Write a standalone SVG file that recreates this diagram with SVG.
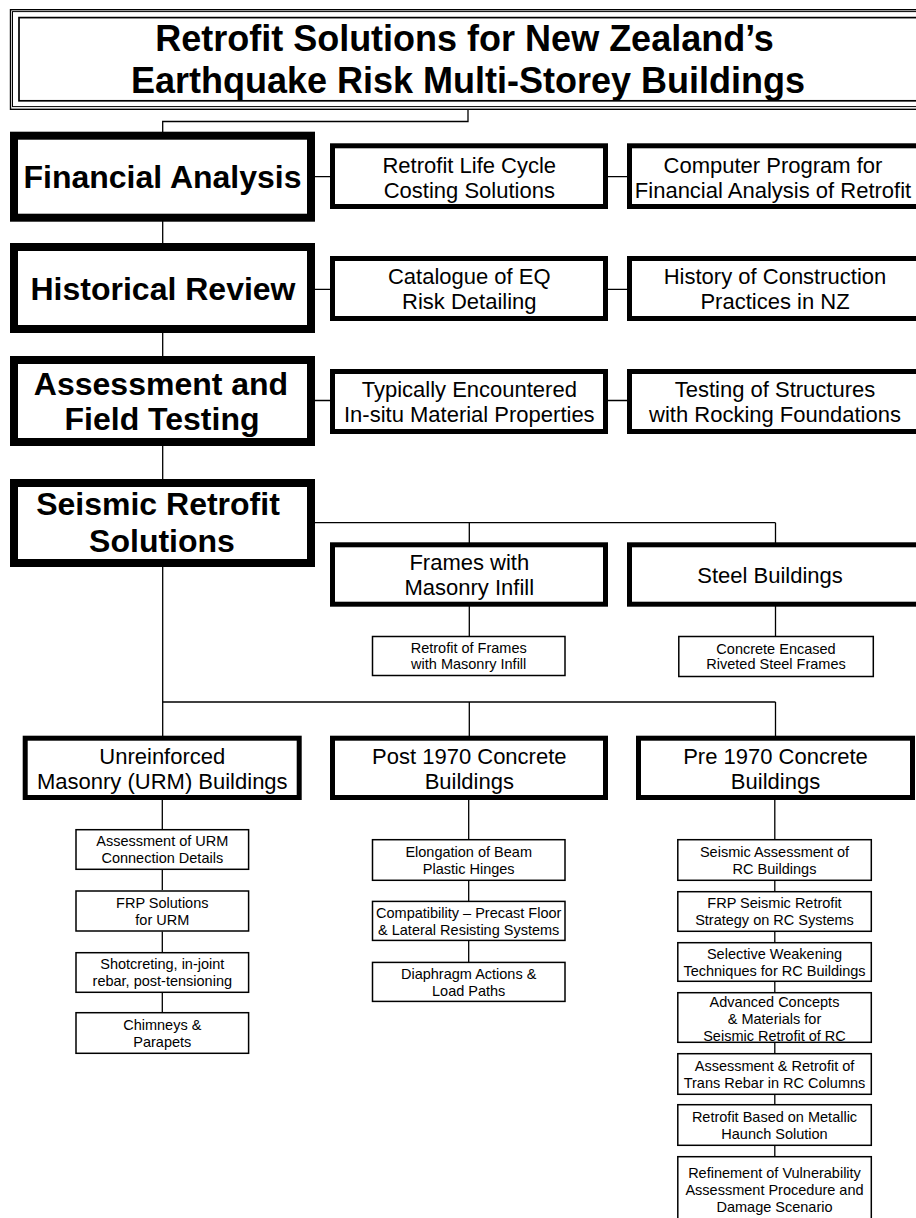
<svg xmlns="http://www.w3.org/2000/svg" width="916" height="1218" viewBox="0 0 916 1218">
<style>
.thick{fill:#fff;stroke:#000;stroke-width:8}
.med{fill:#fff;stroke:#000;stroke-width:5}
.thin{fill:#fff;stroke:#000;stroke-width:1.5}
.conn{fill:none;stroke:#000;stroke-width:1.3}
.frame{fill:none;stroke:#000}
text{font-family:"Liberation Sans",Arial,Helvetica,sans-serif;text-anchor:middle;fill:#000}
.tt{font-size:36px;font-weight:bold}
.tb{font-size:32px;font-weight:bold}
.tm{font-size:22px}
.ts{font-size:14.5px}
</style>
<rect width="916" height="1218" fill="#fff"/>

<g id="connectors">
<path class="conn" d="M468,109.5 V121.5 H162.7 V132"/>
<path class="conn" d="M162.7,221 V243 M162.7,333 V356 M162.7,446 V479 M162.7,567 V702"/>
<path class="conn" d="M315,176.7 H332 M608,176.7 H629 M315,289.3 H332 M608,289.3 H629 M315,400.5 H332 M608,400.5 H629"/>
<path class="conn" d="M315,522.7 H775.5 M469.3,522.7 V543 M775.5,522.7 V543"/>
<path class="conn" d="M469.3,606 V636 M775.5,606 V636"/>
<path class="conn" d="M162.7,702 H775.5 M162.7,702 V736 M469.3,702 V736 M775.5,702 V736"/>
<path class="conn" d="M162.3,799 V829 M162.3,870 V890 M162.3,931.5 V952 M162.3,993 V1012"/>
<path class="conn" d="M468.7,799 V839 M468.7,881 V901 M468.7,941 V962"/>
<path class="conn" d="M774.8,799 V839 M774.8,881 V891 M774.8,932 V942 M774.8,982 V992 M774.8,1043 V1053 M774.8,1095 V1104 M774.8,1146 V1156"/>
</g>

<g id="title">
<rect class="frame" x="10.5" y="9.7" width="930" height="99.6" stroke-width="1.4"/>
<rect class="frame" x="12.5" y="11.6" width="930" height="95" stroke-width="1"/>
<rect class="frame" x="19" y="17.6" width="930" height="83.2" stroke-width="1.7"/>
<text class="tt" x="464.5" y="51">Retrofit Solutions for New Zealand’s</text>
<text class="tt" x="468" y="93">Earthquake Risk Multi-Storey Buildings</text>
</g>

<g id="financial-analysis">
<rect class="thick" x="14" y="135.7" width="297" height="82"/>
<text class="tb" x="162.5" y="188">Financial Analysis</text>
</g>
<g id="retrofit-life-cycle">
<rect class="med" x="332.5" y="145.8" width="273" height="60.7"/>
<text class="tm" x="469.3" y="173"><tspan x="469.3">Retrofit Life Cycle</tspan><tspan x="469.3" dy="25">Costing Solutions</tspan></text>
</g>
<g id="computer-program">
<rect class="med" x="629.5" y="145.8" width="300" height="60.7"/>
<text class="tm" x="773" y="173"><tspan x="773">Computer Program for</tspan><tspan x="773" dy="25">Financial Analysis of Retrofit</tspan></text>
</g>

<g id="historical-review">
<rect class="thick" x="14" y="247" width="297" height="82"/>
<text class="tb" x="163" y="299.5">Historical Review</text>
</g>
<g id="catalogue-eq">
<rect class="med" x="332.5" y="258.5" width="273" height="60"/>
<text class="tm" x="469.3" y="284"><tspan x="469.3">Catalogue of EQ</tspan><tspan x="469.3" dy="25">Risk Detailing</tspan></text>
</g>
<g id="history-construction">
<rect class="med" x="629.5" y="258.5" width="300" height="60"/>
<text class="tm" x="775" y="284"><tspan x="775">History of Construction</tspan><tspan x="775" dy="25">Practices in NZ</tspan></text>
</g>

<g id="assessment-field-testing">
<rect class="thick" x="14" y="360" width="297" height="82"/>
<text class="tb" x="161" y="395"><tspan x="161">Assessment and</tspan><tspan x="162" dy="35">Field Testing</tspan></text>
</g>
<g id="typically-encountered">
<rect class="med" x="332.5" y="371.5" width="273" height="60"/>
<text class="tm" x="469.3" y="396.7"><tspan x="469.3">Typically Encountered</tspan><tspan x="469.3" dy="25">In-situ Material Properties</tspan></text>
</g>
<g id="testing-structures">
<rect class="med" x="629.5" y="371.5" width="300" height="60"/>
<text class="tm" x="775" y="396.7"><tspan x="775">Testing of Structures</tspan><tspan x="775" dy="25">with Rocking Foundations</tspan></text>
</g>

<g id="seismic-retrofit-solutions">
<rect class="thick" x="14" y="483" width="297" height="80"/>
<text class="tb" x="158" y="515"><tspan x="158">Seismic Retrofit</tspan><tspan x="162" dy="37">Solutions</tspan></text>
</g>
<g id="frames-masonry-infill">
<rect class="med" x="332.5" y="544.8" width="273" height="59.4"/>
<text class="tm" x="469.3" y="570"><tspan x="469.3">Frames with</tspan><tspan x="469.3" dy="25">Masonry Infill</tspan></text>
</g>
<g id="steel-buildings">
<rect class="med" x="629.5" y="544.8" width="300" height="59.4"/>
<text class="tm" x="770" y="582.5">Steel Buildings</text>
</g>
<g id="retrofit-frames">
<rect class="thin" x="372.5" y="636.5" width="192.5" height="39"/>
<text class="ts" x="468.7" y="653"><tspan x="468.7">Retrofit of Frames</tspan><tspan x="468.7" dy="15.5">with Masonry Infill</tspan></text>
</g>
<g id="concrete-encased">
<rect class="thin" x="678.8" y="636.5" width="194.5" height="40"/>
<text class="ts" x="776" y="653.5"><tspan x="776">Concrete Encased</tspan><tspan x="776" dy="15.5">Riveted Steel Frames</tspan></text>
</g>

<g id="urm-buildings">
<rect class="med" x="25.2" y="738.2" width="274" height="59.3"/>
<text class="tm" x="162.3" y="764"><tspan x="162.3">Unreinforced</tspan><tspan x="162.3" dy="25">Masonry (URM) Buildings</tspan></text>
</g>
<g id="post-1970">
<rect class="med" x="332.5" y="738.2" width="273" height="59.3"/>
<text class="tm" x="469.3" y="764"><tspan x="469.3">Post 1970 Concrete</tspan><tspan x="469.3" dy="25">Buildings</tspan></text>
</g>
<g id="pre-1970">
<rect class="med" x="638.5" y="738.2" width="274" height="59.3"/>
<text class="tm" x="775.5" y="764"><tspan x="775.5">Pre 1970 Concrete</tspan><tspan x="775.5" dy="25">Buildings</tspan></text>
</g>

<g id="urm-1">
<rect class="thin" x="76" y="829.7" width="172.6" height="39.6"/>
<text class="ts" x="162.3" y="846"><tspan x="162.3">Assessment of URM</tspan><tspan x="162.3" dy="17">Connection Details</tspan></text>
</g>
<g id="urm-2">
<rect class="thin" x="76" y="891" width="172.6" height="40"/>
<text class="ts" x="162.3" y="907.5"><tspan x="162.3">FRP Solutions</tspan><tspan x="162.3" dy="17">for URM</tspan></text>
</g>
<g id="urm-3">
<rect class="thin" x="76" y="952.7" width="172.6" height="39.6"/>
<text class="ts" x="162.3" y="969"><tspan x="162.3">Shotcreting, in-joint</tspan><tspan x="162.3" dy="17">rebar, post-tensioning</tspan></text>
</g>
<g id="urm-4">
<rect class="thin" x="76" y="1012.7" width="172.6" height="40.6"/>
<text class="ts" x="162.3" y="1029.5"><tspan x="162.3">Chimneys &amp;</tspan><tspan x="162.3" dy="17">Parapets</tspan></text>
</g>

<g id="post-1">
<rect class="thin" x="372.5" y="839.7" width="192.5" height="40.6"/>
<text class="ts" x="468.7" y="856.5"><tspan x="468.7">Elongation of Beam</tspan><tspan x="468.7" dy="17">Plastic Hinges</tspan></text>
</g>
<g id="post-2">
<rect class="thin" x="372.5" y="901.4" width="192.5" height="39"/>
<text class="ts" x="468.7" y="917.5"><tspan x="468.7">Compatibility – Precast Floor</tspan><tspan x="468.7" dy="17">&amp; Lateral Resisting Systems</tspan></text>
</g>
<g id="post-3">
<rect class="thin" x="372.5" y="962.4" width="192.5" height="39"/>
<text class="ts" x="468.7" y="978.5"><tspan x="468.7">Diaphragm Actions &amp;</tspan><tspan x="468.7" dy="17">Load Paths</tspan></text>
</g>

<g id="pre-1">
<rect class="thin" x="677.8" y="839.7" width="193.5" height="40.6"/>
<text class="ts" x="774.5" y="856.5"><tspan x="774.5">Seismic Assessment of</tspan><tspan x="774.5" dy="17">RC Buildings</tspan></text>
</g>
<g id="pre-2">
<rect class="thin" x="677.8" y="891.7" width="193.5" height="39.6"/>
<text class="ts" x="774.5" y="908"><tspan x="774.5">FRP Seismic Retrofit</tspan><tspan x="774.5" dy="17">Strategy on RC Systems</tspan></text>
</g>
<g id="pre-3">
<rect class="thin" x="677.8" y="942.7" width="193.5" height="38.6"/>
<text class="ts" x="774.5" y="958.5"><tspan x="774.5">Selective Weakening</tspan><tspan x="774.5" dy="17">Techniques for RC Buildings</tspan></text>
</g>
<g id="pre-4">
<rect class="thin" x="677.8" y="992.7" width="193.5" height="49.6"/>
<text class="ts" x="774.5" y="1006.7"><tspan x="774.5">Advanced Concepts</tspan><tspan x="774.5" dy="17">&amp; Materials for</tspan><tspan x="774.5" dy="17">Seismic Retrofit of RC</tspan></text>
</g>
<g id="pre-5">
<rect class="thin" x="677.8" y="1053.7" width="193.5" height="40.6"/>
<text class="ts" x="774.5" y="1070.5"><tspan x="774.5">Assessment &amp; Retrofit of</tspan><tspan x="774.5" dy="17">Trans Rebar in RC Columns</tspan></text>
</g>
<g id="pre-6">
<rect class="thin" x="677.8" y="1104.7" width="193.5" height="40.6"/>
<text class="ts" x="774.5" y="1121.5"><tspan x="774.5">Retrofit Based on Metallic</tspan><tspan x="774.5" dy="17">Haunch Solution</tspan></text>
</g>
<g id="pre-7">
<rect class="thin" x="677.8" y="1156.7" width="193.5" height="80"/>
<text class="ts" x="774.5" y="1178"><tspan x="774.5">Refinement of Vulnerability</tspan><tspan x="774.5" dy="17">Assessment Procedure and</tspan><tspan x="774.5" dy="17">Damage Scenario</tspan></text>
</g>
</svg>
